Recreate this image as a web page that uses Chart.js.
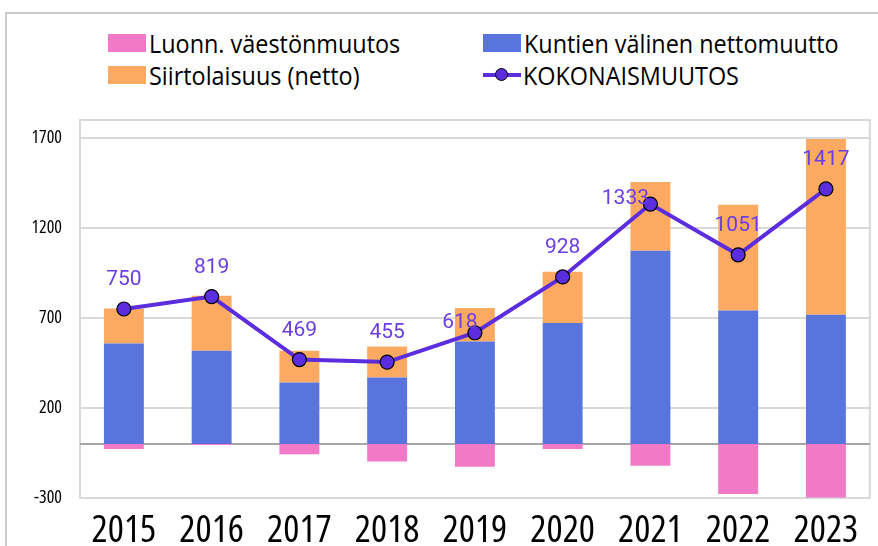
<!DOCTYPE html>
<html>
<head>
<meta charset="utf-8">
<script src="https://cdn.jsdelivr.net/npm/chart.js@4.4.1/dist/chart.umd.min.js"></script>
<style>
    html, body { margin: 0; padding: 0; background: #fff; overflow: hidden; }
    #wrap { position: relative; width: 878px; height: 546px; }
    #frame { position: absolute; left: 5px; top: 12px; width: 900px; height: 600px; border: 2px solid #c9c9c9; box-sizing: border-box; }
    #legend { position: absolute; left: 0; top: 0; width: 878px; height: 110px; font-family: "Open Sans", sans-serif; font-size: 26px; color: #000; }
    .item { position: absolute; display: flex; align-items: center; height: 30px; white-space: nowrap; }
    .item span { display: inline-block; transform: scaleX(0.9); transform-origin: left center; }
    .box { width: 38px; height: 18px; margin-right: 3px; }
    .mark { position: relative; width: 38px; height: 30px; margin-right: 2px; }
    .mark .ln { position: absolute; left: 0; right: 0; top: 13px; height: 4px; }
    .mark .dot { position: absolute; left: 12px; top: 8px; width: 13px; height: 13px; border-radius: 50%; border: 1px solid #000; box-sizing: border-box; }
    canvas { position: absolute; left: 0; top: 0; }
</style>
</head>
<body>
<div id="wrap">
    <div id="frame"></div>
    <div id="legend"></div>
    <canvas id="popChart" width="878" height="546"></canvas>
</div>
<script>
    const years = ['2015', '2016', '2017', '2018', '2019', '2020', '2021', '2022', '2023'];
    const luonnollinen = [-28, -5, -57, -97, -126, -28, -121, -278, -297];
    const kuntienValinen = [559, 518, 342, 370, 570, 672, 1074, 741, 718];
    const siirtolaisuus = [194, 306, 176, 171, 186, 285, 382, 588, 976];
    const kokonais = [750, 819, 469, 455, 618, 928, 1333, 1051, 1417];
    const yTicks = [-300, 200, 700, 1200, 1700];

    const lineColor = '#5b2ddf';
    const labelColor = '#6a3de6';
    const narrowFont = '"Open Sans", sans-serif';

    // label nudges where the original had them pushed aside
    const labelShift = { 4: [-15, 19], 6: [-25, 24] };

    const frameBox = {
        id: 'frameBox',
        beforeDatasetsDraw(chart) {
            const a = chart.chartArea;
            const ctx = chart.ctx;
            const y0 = chart.scales.y.getPixelForValue(0);
            ctx.save();
            ctx.strokeStyle = '#d9d9d9';
            ctx.lineWidth = 2;
            ctx.strokeRect(a.left, a.top, a.right - a.left, a.bottom - a.top);
            ctx.strokeStyle = '#a6a6a6';
            ctx.beginPath();
            ctx.moveTo(a.left, y0);
            ctx.lineTo(a.right, y0);
            ctx.stroke();
            ctx.restore();
        }
    };

    const totalLabels = {
        id: 'totalLabels',
        afterDatasetsDraw(chart) {
            const idx = chart.data.datasets.findIndex(d => d.type === 'line');
            const meta = chart.getDatasetMeta(idx);
            const ctx = chart.ctx;
            ctx.save();
            ctx.font = '21px Roboto, "Noto Sans", sans-serif';
            ctx.fillStyle = labelColor;
            ctx.textAlign = 'center';
            ctx.textBaseline = 'middle';
            meta.data.forEach(function (pt, i) {
                const s = labelShift[i] || [0, 0];
                ctx.fillText(String(kokonais[i]), pt.x + s[0], pt.y - 29 + s[1]);
            });
            ctx.restore();
        }
    };

    const ctx = document.getElementById('popChart').getContext('2d');
    const popChart = new Chart(ctx, {
        type: 'bar',
        data: {
            labels: years,
            datasets: [
                {
                    label: 'Luonn. väestönmuutos',
                    data: luonnollinen,
                    backgroundColor: '#f279c6',
                    stack: 'parts',
                    order: 2
                },
                {
                    label: 'Kuntien välinen nettomuutto',
                    data: kuntienValinen,
                    backgroundColor: '#5a74dd',
                    stack: 'parts',
                    order: 2
                },
                {
                    label: 'Siirtolaisuus (netto)',
                    data: siirtolaisuus,
                    backgroundColor: '#fcaa62',
                    stack: 'parts',
                    order: 2
                },
                {
                    label: 'KOKONAISMUUTOS',
                    type: 'line',
                    data: kokonais,
                    stack: 'total',
                    borderColor: lineColor,
                    backgroundColor: lineColor,
                    borderWidth: 4,
                    pointRadius: 7,
                    pointBorderColor: '#000',
                    pointBorderWidth: 1.2,
                    pointBackgroundColor: lineColor,
                    tension: 0,
                    order: 0
                }
            ]
        },
        options: {
            responsive: false,
            animation: false,
            layout: { padding: { top: 120, left: 0, right: 8, bottom: 0 } },
            plugins: {
                legend: { display: false },
                tooltip: { enabled: false }
            },
            datasets: {
                bar: { categoryPercentage: 1, barPercentage: 0.455 }
            },
            scales: {
                x: {
                    stacked: true,
                    grid: { display: false },
                    border: { display: false },
                    ticks: {
                        color: '#000',
                        padding: 2,
                        maxRotation: 0,
                        minRotation: 0,
                        autoSkip: false,
                        font: { family: narrowFont, weight: 'condensed', size: 38 }
                    },
                    afterFit: function (scale) { scale.height = 48; }
                },
                y: {
                    stacked: true,
                    min: -300,
                    max: 1800,
                    afterBuildTicks: function (scale) {
                        scale.ticks = yTicks.map(v => ({ value: v }));
                    },
                    grid: { color: '#d9d9d9', lineWidth: 2, drawTicks: false },
                    border: { display: false },
                    ticks: {
                        color: '#000',
                        padding: 18,
                        font: { family: narrowFont, weight: 'condensed', size: 18 },
                        callback: function (v) { return String(v); }
                    },
                    afterFit: function (scale) { scale.width = 80; }
                }
            }
        },
        plugins: [frameBox, totalLabels]
    });

    // two-column legend like the original
    const legendPos = [[108, 28], [483, 28], [108, 60], [483, 60]];
    const legendEl = document.getElementById('legend');
    popChart.data.datasets.forEach(function (ds, k) {
        const item = document.createElement('div');
        item.className = 'item';
        item.style.left = legendPos[k][0] + 'px';
        item.style.top = legendPos[k][1] + 'px';
        if (ds.type === 'line') {
            item.innerHTML = '<div class="mark"><div class="ln" style="background:' + ds.borderColor +
                '"></div><div class="dot" style="background:' + ds.borderColor + '"></div></div>';
        } else {
            item.innerHTML = '<div class="box" style="background:' + ds.backgroundColor + '"></div>';
        }
        const t = document.createElement('span');
        t.textContent = ds.label;
        item.appendChild(t);
        legendEl.appendChild(item);
    });
</script>
</body>
</html>
